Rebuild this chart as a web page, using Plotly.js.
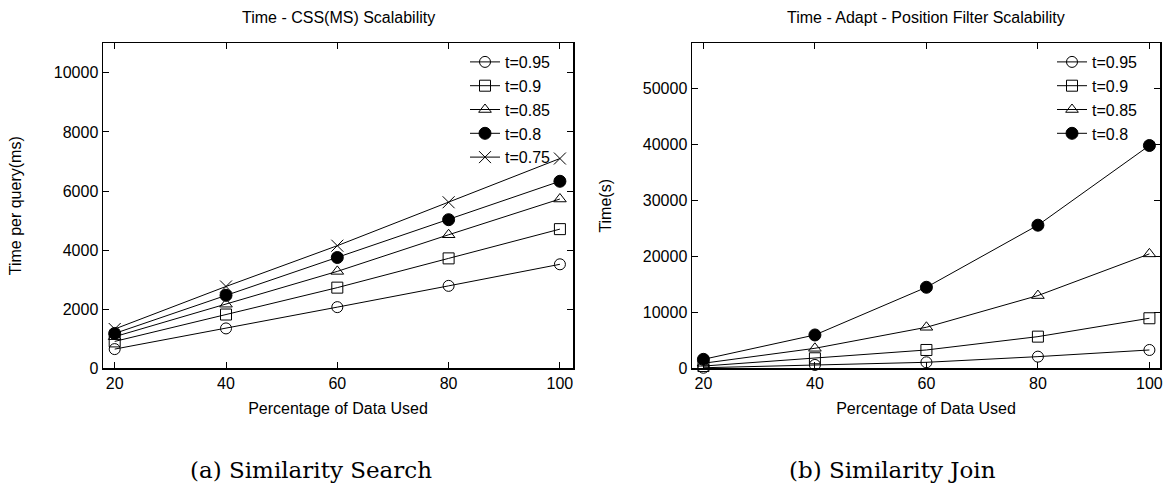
<!DOCTYPE html>
<html>
<head>
<meta charset="utf-8">
<script src="https://cdn.plot.ly/plotly-3.0.1.min.js"></script>
<style>
  html, body { margin: 0; padding: 0; background: #fff; }
  #chart { width: 1166px; height: 485px; }
</style>
</head>
<body>
<div id="chart"></div>
<script>
// ---- data ----
const pct = [20, 40, 60, 80, 100];

// (a) Similarity Search: Time per query (ms)
const cssLabels = ["t=0.95", "t=0.9", "t=0.85", "t=0.8", "t=0.75"];
const css_t095 = [650, 1350, 2070, 2790, 3520];
const css_t090 = [910, 1820, 2730, 3720, 4710];
const css_t085 = [1070, 2170, 3280, 4520, 5730];
const css_t080 = [1180, 2470, 3750, 5030, 6330];
const css_t075 = [1330, 2770, 4150, 5620, 7100];

// (b) Similarity Join: Time (s)
const adaptLabels = ["t=0.95", "t=0.9", "t=0.85", "t=0.8"];
const adapt_t095 = [100, 600, 1070, 2080, 3270];
const adapt_t090 = [400, 1790, 3270, 5650, 8930];
const adapt_t085 = [900, 3570, 7320, 12980, 20420];
const adapt_t080 = [1600, 5950, 14460, 25540, 39760];

// ---- styles ----
const FONT = "Liberation Sans, Arial, Helvetica, sans-serif";
const SERIF = "DejaVu Serif, Liberation Serif, serif";
const symbols = [
  {symbol: "circle-open", size: 11},
  {symbol: "square-open", size: 11},
  {symbol: "triangle-up-open", size: 11},
  {symbol: "circle", size: 12},
  {symbol: "x-thin-open", size: 12}
];

function mk(y, name, i, xa, ya, leg) {
  return {
    x: pct, y: y, name: name, type: "scatter", mode: "lines+markers",
    xaxis: xa, yaxis: ya, legend: leg,
    line: {color: "#000", width: 1},
    marker: {symbol: symbols[i].symbol, size: symbols[i].size, color: "#000",
             line: {color: "#000", width: 1}},
    cliponaxis: false
  };
}

const cssSeries = [css_t095, css_t090, css_t085, css_t080, css_t075];
const adaptSeries = [adapt_t095, adapt_t090, adapt_t085, adapt_t080];

const traces = [];
cssSeries.forEach((s, i) => traces.push(mk(s, cssLabels[i], i, "x", "y", "legend")));
adaptSeries.forEach((s, i) => traces.push(mk(s, adaptLabels[i], i, "x2", "y2", "legend2")));

const W = 1166, H = 485;
const yDom = [1 - 368.3 / H, 1 - 43.3 / H];

function axisBase(extra) {
  return Object.assign({
    showline: true, mirror: "ticks", linecolor: "#000", linewidth: 1.5,
    ticks: "inside", ticklen: 6, tickwidth: 1, tickcolor: "#000",
    showgrid: false, zeroline: false,
    tickfont: {family: FONT, size: 16, color: "#000"},
    tickformat: "d", fixedrange: true
  }, extra);
}

const layout = {
  width: W, height: H,
  margin: {l: 0, r: 0, t: 0, b: 0},
  paper_bgcolor: "#fff", plot_bgcolor: "#fff",
  font: {family: FONT, size: 16, color: "#000"},
  xaxis: axisBase({domain: [103 / W, 573 / W], range: [17.9, 102.35], tick0: 0, dtick: 20,
    anchor: "y",
    title: {text: "Percentage of Data Used", font: {family: FONT, size: 16}, standoff: 12}}),
  yaxis: axisBase({domain: yDom, range: [0, 11000], dtick: 2000, anchor: "x",
    title: {text: "Time per query(ms)", font: {family: FONT, size: 16}, standoff: 28}}),
  xaxis2: axisBase({domain: [692 / W, 1160 / W], range: [17.95, 101.9], tick0: 0, dtick: 20,
    anchor: "y2",
    title: {text: "Percentage of Data Used", font: {family: FONT, size: 16}, standoff: 12}}),
  yaxis2: axisBase({domain: yDom, range: [0, 58000], dtick: 10000, anchor: "x2",
    title: {text: "Time(s)", font: {family: FONT, size: 16}, standoff: 27}}),
  legend: {
    x: 556 / W, y: 1 - 45 / H, xanchor: "right", yanchor: "top",
    bgcolor: "rgba(0,0,0,0)", borderwidth: 0,
    font: {family: FONT, size: 16, color: "#000"},
    tracegroupgap: 0, itemwidth: 30
  },
  legend2: {
    x: 1143 / W, y: 1 - 45 / H, xanchor: "right", yanchor: "top",
    bgcolor: "rgba(0,0,0,0)", borderwidth: 0,
    font: {family: FONT, size: 16, color: "#000"},
    tracegroupgap: 0, itemwidth: 30
  },
  showlegend: true,
  annotations: [
    {text: "Time - CSS(MS) Scalability", xref: "paper", yref: "paper",
     x: 338 / W, y: 1 - 18 / H, xanchor: "center", yanchor: "middle", showarrow: false,
     font: {family: FONT, size: 16, color: "#000"}},
    {text: "Time - Adapt - Position Filter Scalability", xref: "paper", yref: "paper",
     x: 926 / W, y: 1 - 18 / H, xanchor: "center", yanchor: "middle", showarrow: false,
     font: {family: FONT, size: 16, color: "#000"}},
    {text: "(a) Similarity Search", xref: "paper", yref: "paper",
     x: 310.5 / W, y: 1 - 470 / H, xanchor: "center", yanchor: "middle", showarrow: false,
     font: {family: SERIF, size: 23, color: "#000"}},
    {text: "(b) Similarity Join", xref: "paper", yref: "paper",
     x: 892 / W, y: 1 - 470 / H, xanchor: "center", yanchor: "middle", showarrow: false,
     font: {family: SERIF, size: 23, color: "#000"}}
  ]
};

Plotly.newPlot("chart", traces, layout, {displayModeBar: false, staticPlot: true});
</script>
</body>
</html>
